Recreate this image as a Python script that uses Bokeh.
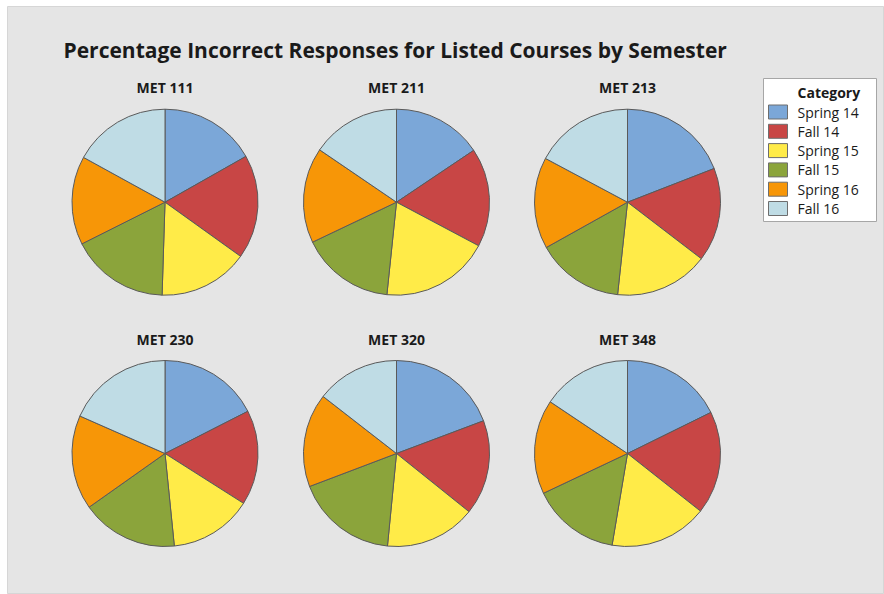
import numpy as np
from bokeh.plotting import figure
from bokeh.models import Range1d, ColumnDataSource
from bokeh.core.properties import value
from bokeh.embed import file_html
from bokeh.resources import INLINE

# ---- data ----
courses = ["MET 111", "MET 211", "MET 213", "MET 230", "MET 320", "MET 348"]
semesters = ["Spring 14", "Fall 14", "Spring 15", "Fall 15", "Spring 16", "Fall 16"]
colors = ["#7BA7D8", "#C84645", "#FFEB48", "#8BA43B", "#F79607", "#BFDCE5"]
met111 = [16.8, 18.1, 15.6, 17.1, 15.4, 17.0]
met211 = [15.6, 17.2, 18.9, 16.3, 16.6, 15.5]
met213 = [19.1, 16.3, 16.3, 15.2, 15.9, 17.2]
met230 = [17.5, 16.5, 14.4, 16.8, 16.4, 18.4]
met320 = [19.3, 16.5, 15.8, 17.7, 16.3, 14.5]
met348 = [17.7, 17.9, 17.0, 15.3, 16.4, 15.6]
values = [met111, met211, met213, met230, met320, met348]

title = "Percentage Incorrect Responses for Listed Courses by Semester"
legend_title = "Category"

# ---- layout ----
W, H = 884, 594
LEFT, TOP = 7, 6
FONT = "Open Sans"


def fx(ix):
    return ix


def fy(iy):
    return H - iy


col_x = [164.5, 396.0, 627.0]
row_y = [201.7, 453.0]
R = 93.0

p = figure(width=W, height=H, output_backend="svg", toolbar_location=None,
           x_range=Range1d(LEFT, W), y_range=Range1d(0, H - TOP),
           x_axis_location=None, y_axis_location=None,
           min_border_left=LEFT, min_border_top=TOP, min_border_right=0, min_border_bottom=0)
p.grid.visible = False
p.background_fill_color = "#E5E5E5"
p.border_fill_color = "white"
p.outline_line_color = "#D6D6D6"

xs, ys, starts, ends, cols = [], [], [], [], []
tx, ty = [], []
for i, (course, vals) in enumerate(zip(courses, values)):
    cx = fx(col_x[i % 3])
    cy = fy(row_y[i // 3])
    tx.append(cx)
    ty.append(fy(row_y[i // 3] - 114.5))
    v = np.array(vals, dtype=float)
    cum = np.concatenate([[0], np.cumsum(v)]) / v.sum()
    for j in range(len(v)):
        xs.append(cx)
        ys.append(cy)
        starts.append(np.pi / 2 - 2 * np.pi * cum[j])
        ends.append(np.pi / 2 - 2 * np.pi * cum[j + 1])
        cols.append(colors[j])

src = ColumnDataSource(dict(x=xs, y=ys, s=starts, e=ends, c=cols))
p.wedge(x="x", y="y", radius=R, start_angle="s", end_angle="e", direction="clock",
        fill_color="c", line_color="#5A5A5A", line_width=1, source=src)

# course titles
p.text(x=tx, y=ty, text=courses, text_align="center", text_baseline="middle",
       text_font=value(FONT), text_font_style="bold", text_font_size="14px",
       text_color="#1A1A1A")

# main title
p.text(x=[fx(63)], y=[fy(49)], text=[title], text_align="left", text_baseline="middle",
       text_font=value(FONT), text_font_style="bold", text_font_size="21px",
       text_color="#1A1A1A")

# legend
p.quad(left=[fx(763)], right=[fx(876)], top=[fy(78)], bottom=[fy(221)],
       fill_color="white", line_color="#A6A6A6", line_width=1)
p.text(x=[fx(797)], y=[fy(92)], text=[legend_title], text_align="left",
       text_baseline="middle", text_font=value(FONT), text_font_style="bold",
       text_font_size="14px", text_color="#1A1A1A")
ly = [fy(111.5 + 19.3 * k) for k in range(len(semesters))]
p.rect(x=[fx(777.5)] * len(semesters), y=ly, width=19, height=14,
       fill_color=colors, line_color="#6E6E6E", line_width=1)
p.text(x=[fx(797)] * len(semesters), y=ly, text=semesters, text_align="left",
       text_baseline="middle", text_font=value(FONT), text_font_size="14px",
       text_color="#1A1A1A")

open("out.html", "w").write(file_html(p, INLINE))
